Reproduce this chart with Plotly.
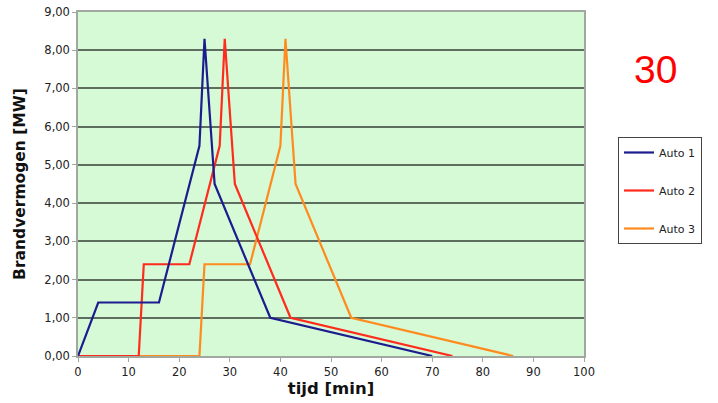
import plotly.graph_objects as go

auto1_x = [0, 4, 16, 24, 25, 27, 38, 70]
auto1_y = [0, 1.4, 1.4, 5.5, 8.3, 4.5, 1.0, 0]
auto2_x = [0, 12, 13, 22, 28, 29, 31, 42, 74]
auto2_y = [0, 0, 2.4, 2.4, 5.5, 8.3, 4.5, 1.0, 0]
auto3_x = [0, 24, 25, 34, 40, 41, 43, 54, 86]
auto3_y = [0, 0, 2.4, 2.4, 5.5, 8.3, 4.5, 1.0, 0]
names = ["Auto 1", "Auto 2", "Auto 3"]
colors = ["#1c1c8e", "#ff2b1c", "#ff8a1e"]

fig = go.Figure()
series = [(auto1_x, auto1_y), (auto2_x, auto2_y), (auto3_x, auto3_y)]
for i in [2, 1, 0]:
    xs, ys = series[i]
    fig.add_trace(go.Scatter(x=xs, y=ys, mode="lines", name=names[i],
                             line=dict(color=colors[i], width=2.2),
                             legendgroup=names[i], legendrank=i + 1))

pw, ph = 718 - 78 - 134, 403 - 12 - 47
font_family = "DejaVu Sans"
fig.update_layout(
    width=718, height=403,
    margin=dict(l=78, r=134, t=12, b=47),
    paper_bgcolor="white",
    plot_bgcolor="#d6f9d6",
    separators=", ",
    font=dict(family=font_family, size=11, color="#222"),
    showlegend=True,
    legend=dict(x=(618 - 78) / pw, y=(356 - 137) / ph, xanchor="left", yanchor="top",
                bordercolor="#444", borderwidth=1, bgcolor="white",
                tracegroupgap=19, font=dict(size=11, color="#222"),
                traceorder="grouped", entrywidth=74, itemwidth=30),
    xaxis=dict(range=[0, 100], tickmode="linear", tick0=0, dtick=10,
               showgrid=False, zeroline=False, showline=True, linecolor="#a0a8a0",
               linewidth=1.5, mirror=True, ticks="outside", ticklen=4, tickcolor="#a0a8a0",
               title=dict(text="<b>tijd [min]</b>", font=dict(size=16.5, color="#111"), standoff=2),
               tickfont=dict(size=11.5, color="#222"), automargin=False),
    yaxis=dict(range=[0, 9], tickmode="linear", tick0=0, dtick=1, tickformat=".2f",
               showgrid=True, gridcolor="#5e6e5e", gridwidth=1.5, zeroline=False,
               showline=True, linecolor="#a0a8a0", linewidth=1.5, mirror=True,
               ticks="outside", ticklen=4, tickcolor="#a0a8a0",
               title=dict(text="<b>Brandvermogen [MW]</b>", font=dict(size=15.5, color="#111"), standoff=15),
               tickfont=dict(size=11.5, color="#222"), automargin=False),
    annotations=[dict(text="30", x=(655 - 78) / pw, y=(356 - 70) / ph, xref="paper", yref="paper",
                      xanchor="center", yanchor="middle",
                      showarrow=False, font=dict(size=39, color="red", family="Liberation Sans"))],
)

fig.write_html("out.html")
